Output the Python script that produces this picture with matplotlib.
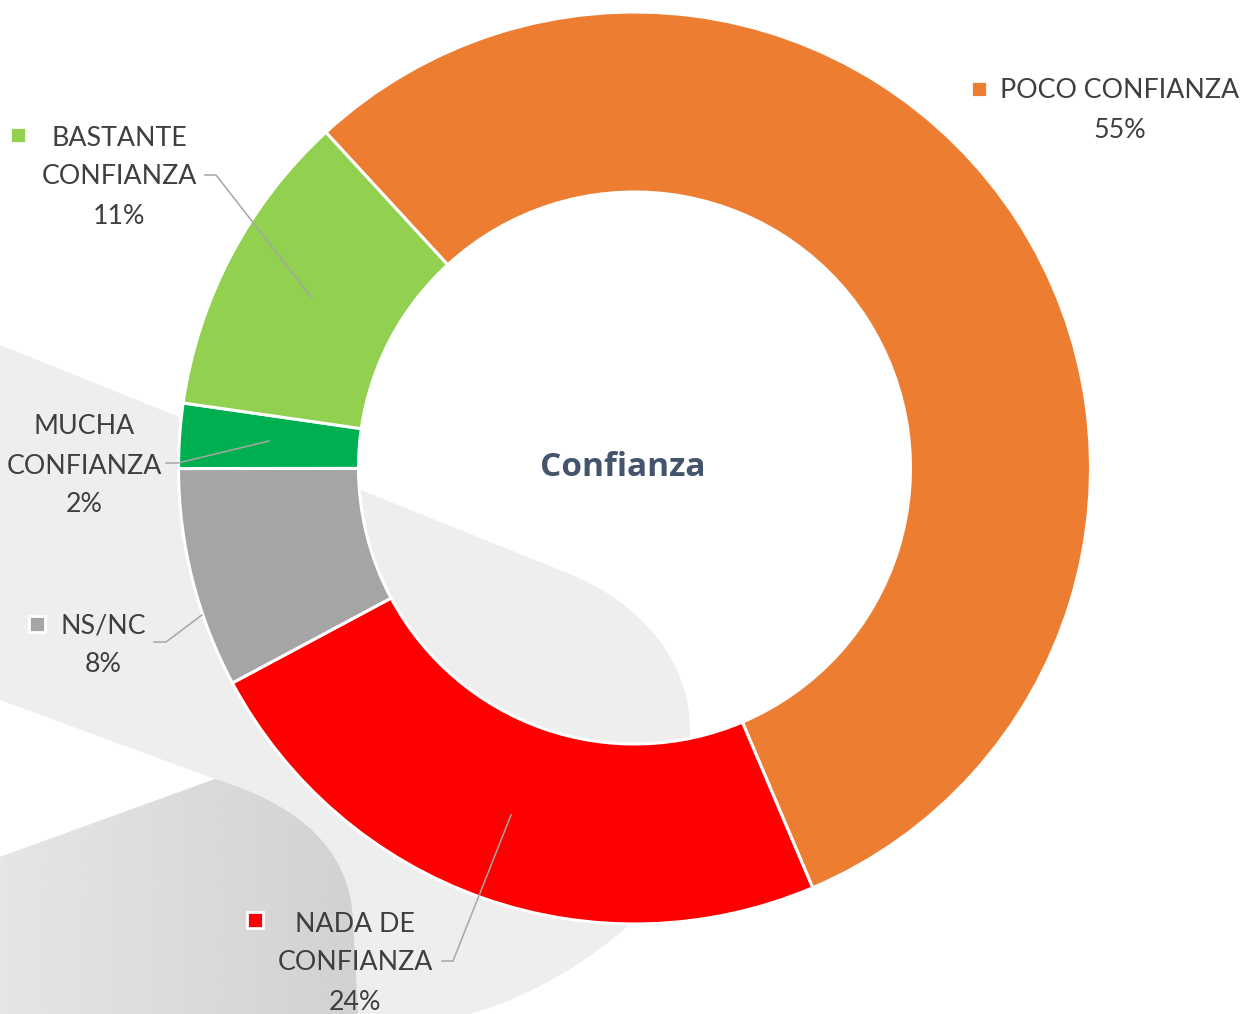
import numpy as np
import matplotlib.pyplot as plt
from matplotlib.path import Path
from matplotlib.patches import PathPatch

# data
categories = ["POCO CONFIANZA", "NADA DE CONFIANZA", "NS/NC", "MUCHA CONFIANZA", "BASTANTE CONFIANZA"]
values = [55.5, 23.6, 7.8, 2.3, 10.9]
pct_labels = ["55%", "24%", "8%", "2%", "11%"]
colors = ["#ED7D31", "#FF0000", "#A5A5A5", "#00B050", "#92D050"]
center_title = "Confianza"

W, H = 1255, 1014
fig = plt.figure(figsize=(W / 100, H / 100), dpi=100)
ax = fig.add_axes([0, 0, 1, 1])
ax.set_xlim(0, W)
ax.set_ylim(0, H)
ax.axis("off")


def p(x, y):
    # pixel coords (y down) -> axes coords
    return (x, H - y)


# decorative background shapes
light = Path([p(0, 345), p(560, 570), p(640, 600), p(690, 660), p(690, 730),
              p(690, 820), p(690, 900), p(560, 990), p(470, 1014), p(0, 1014), p(0, 345)],
             [Path.MOVETO, Path.LINETO, Path.CURVE4, Path.CURVE4, Path.CURVE4,
              Path.LINETO, Path.CURVE4, Path.CURVE4, Path.CURVE4, Path.LINETO, Path.CLOSEPOLY])
ax.add_patch(PathPatch(light, facecolor="#eeeeee", edgecolor="none", zorder=0))

gap = Path([p(0, 700), p(215, 779), p(0, 857), p(0, 700)],
           [Path.MOVETO, Path.LINETO, Path.LINETO, Path.CLOSEPOLY])
ax.add_patch(PathPatch(gap, facecolor="white", edgecolor="none", zorder=0.5))

dark = Path([p(0, 857), p(215, 779), p(300, 805), p(350, 850), p(353, 920),
             p(358, 1014), p(0, 1014), p(0, 857)],
            [Path.MOVETO, Path.LINETO, Path.CURVE4, Path.CURVE4, Path.CURVE4,
             Path.LINETO, Path.LINETO, Path.CLOSEPOLY])
dark_patch = PathPatch(dark, facecolor="none", edgecolor="none", zorder=0.6)
ax.add_patch(dark_patch)
grad = np.linspace(0.9, 0.82, 256).reshape(1, -1)
im = ax.imshow(grad, cmap="gray", vmin=0, vmax=1, extent=(0, 360, 0, H - 779),
               aspect="auto", zorder=0.6)
im.set_clip_path(dark_patch)

# donut
cx, cy = p(634.5, 468)
ax.pie(values, colors=colors, startangle=132.6, counterclock=False,
       center=(cx, cy), radius=456, frame=True,
       wedgeprops=dict(width=180, edgecolor="white", linewidth=2.2))
ax.set_xlim(0, W)
ax.set_ylim(0, H)
ax.set_aspect("auto")
ax.axis("off")

ax.text(cx - 12, cy, center_title, ha="center", va="center", fontsize=24,
        fontweight="bold", color="#44546A", family="Open Sans")

# labels
txt_color = "#3F3F3F"
lab_font = dict(fontsize=19.3, color=txt_color, family="Lato", ha="center", va="center")
label_lines = [
    ["POCO CONFIANZA", pct_labels[0]],
    ["NADA DE", "CONFIANZA", pct_labels[1]],
    ["NS/NC", pct_labels[2]],
    ["MUCHA", "CONFIANZA", pct_labels[3]],
    ["BASTANTE", "CONFIANZA", pct_labels[4]],
]
label_pos = [(1120, 91), (355, 924), (103, 626), (84, 427), (119, 138)]
marker_pos = [(979, 89), (255, 920), (37, 624), None, (18, 135)]
for lines, (lx, ly), mpos, col in zip(label_lines, label_pos, marker_pos, colors):
    for i, line in enumerate(lines):
        ax.text(*p(lx, ly + 39 * i), line, **lab_font, zorder=5)
    if mpos is not None:
        ax.plot(*p(*mpos), marker="s", markersize=11.5, color=col,
                markeredgecolor="white", markeredgewidth=2, zorder=5)

# leader lines
leaders = [
    [(442, 961), (453, 961), (511, 815)],
    [(154, 642), (166, 642), (202, 615)],
    [(166, 463), (178, 463), (269, 441)],
    [(205, 175), (216, 175), (311, 297)],
]
for pts in leaders:
    xs, ys = zip(*[p(x, y) for x, y in pts])
    ax.plot(xs, ys, color="#A6A6A6", linewidth=1.1, zorder=4)

fig.savefig("out.png", dpi=100)
